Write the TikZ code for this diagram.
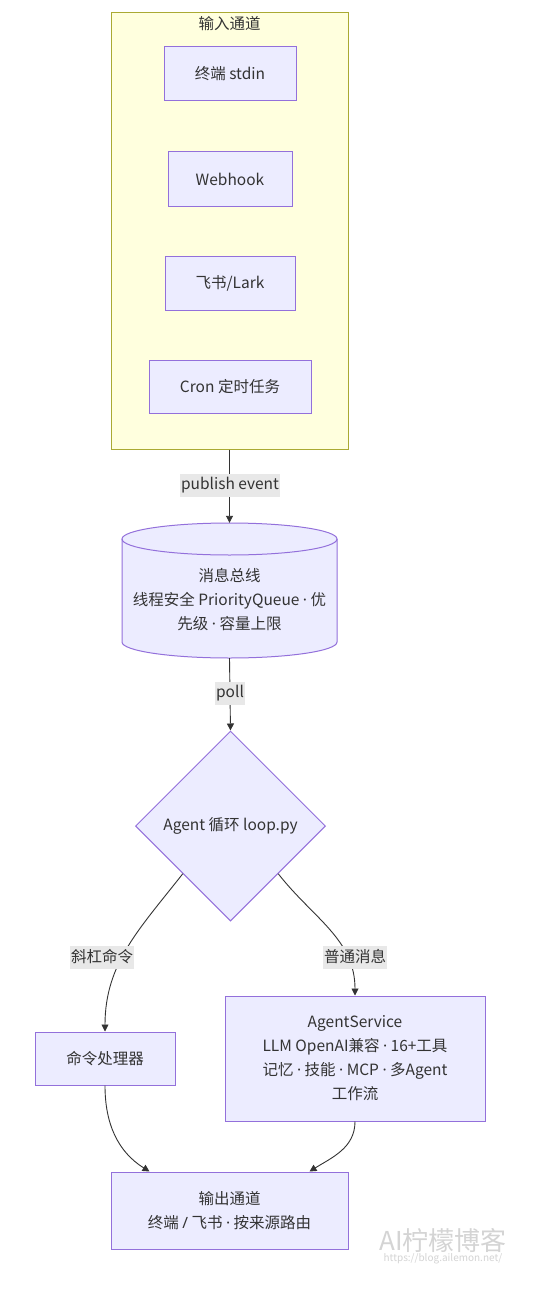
\documentclass[tikz,border=0pt]{standalone}
\usepackage{fontspec}
\setmainfont{Noto Sans CJK SC}
\newfontfamily\latf{Noto Sans}
\newcommand{\mydot}{{\latf ·}}
\usetikzlibrary{shapes.geometric,arrows.meta}
\definecolor{nodefill}{HTML}{ECECFF}
\definecolor{nodeline}{HTML}{9370DB}
\definecolor{clfill}{HTML}{FFFFDE}
\definecolor{clline}{HTML}{AAAA33}
\definecolor{txt}{HTML}{333333}
\definecolor{lblbg}{HTML}{E8E8E8}
\definecolor{wm}{HTML}{D4D4D4}
\tikzset{
  every node/.style={text=txt, font=\fontsize{15.5pt}{24pt}\selectfont},
  box/.style={draw=nodeline, fill=nodefill, line width=1pt, inner sep=0pt, align=center},
  cluster/.style={draw=clline, fill=clfill, line width=1pt, inner sep=0pt},
  lbl/.style={fill=lblbg, inner xsep=1pt, inner ysep=0pt, minimum height=23pt},
  conn/.style={draw=txt, line width=0.9pt, -{Triangle[length=7pt,width=7pt]}},
}
\begin{document}
\begin{tikzpicture}[x=1pt,y=-1pt]
\useasboundingbox (0,0) rectangle (539,1292);
\fill[white] (0,0) rectangle (539,1292);
% input cluster
\node[cluster, minimum width=237pt, minimum height=436pt] (inbox) at (229.5,231) {};
\node (intitle) at (229.5,24) {输入通道};
\node[box, minimum width=132pt, minimum height=54pt] (stdin) at (230,74) {终端 stdin};
\node[box, minimum width=124pt, minimum height=54pt] (webhook) at (230,179) {Webhook};
\node[box, minimum width=130pt, minimum height=54pt] (lark) at (230,283) {飞书/Lark};
\node[box, minimum width=162pt, minimum height=53pt] (cron) at (230,387) {Cron 定时任务};
% message bus cylinder
\fill[nodefill] (122,539) -- (122,642) arc[start angle=180, end angle=360, x radius=107.5pt, y radius=16pt] -- (337,539) arc[start angle=0, end angle=180, x radius=107.5pt, y radius=16pt] -- cycle;
\draw[nodeline, line width=1pt] (122,539) -- (122,642) arc[start angle=180, end angle=360, x radius=107.5pt, y radius=16pt] -- (337,539);
\draw[nodeline, line width=1pt] (229.5,539) ellipse[x radius=107.5pt, y radius=16pt];
\node[minimum width=215pt, minimum height=135pt, inner sep=0pt] (bus) at (229.5,590.5) {};
\node[align=center, inner sep=0pt] (bustext) at (229.5,600) {消息总线\\线程安全 PriorityQueue \mydot{} 优\\先级 \mydot{} 容量上限};
% agent loop
\node[box, diamond, aspect=1, minimum width=190pt, minimum height=190pt] (loop) at (230.5,826) {Agent 循环 loop.py};
% lower nodes
\node[box, minimum width=140pt, minimum height=53pt] (cmd) at (105,1058.5) {命令处理器};
\node[box, minimum width=260pt, minimum height=125pt] (svc) at (355,1058.5) {AgentService\\LLM OpenAI兼容 \mydot{} 16+工具\\记忆 \mydot{} 技能 \mydot{} MCP \mydot{} 多Agent\\工作流};
\node[box, minimum width=237pt, minimum height=77pt] (out) at (229.5,1210.5) {输出通道\\终端 {\latf /} 飞书 \mydot{} 按来源路由};
% connectors
\draw[conn] (inbox.south) -- (bus.north);
\draw[conn] (bus.south) -- (loop.north);
\draw[conn] (loop.south west) to[out=-128, in=90] (cmd.north);
\draw[conn] (loop.south east) to[out=-52, in=90] (svc.north);
\draw[conn] (cmd.south) to[out=-90, in=148] ([xshift=-80pt]out.north);
\draw[conn] (svc.south) to[out=-90, in=32] ([xshift=80pt]out.north);
% labels
\node[lbl] (l1) at (230,485) {publish event};
\node[lbl] (l2) at (230,693) {poll};
\node[lbl] (l3) at (102,957) {斜杠命令};
\node[lbl] (l4) at (355,957) {普通消息};
% watermark
\node[text=wm, font=\fontsize{26pt}{28pt}\selectfont] (wm1) at (443,1240) {AI柠檬博客};
\node[text=wm, font=\fontsize{10pt}{12pt}\selectfont] (wm2) at (443,1259) {https://blog.ailemon.net/};
\end{tikzpicture}
\end{document}
